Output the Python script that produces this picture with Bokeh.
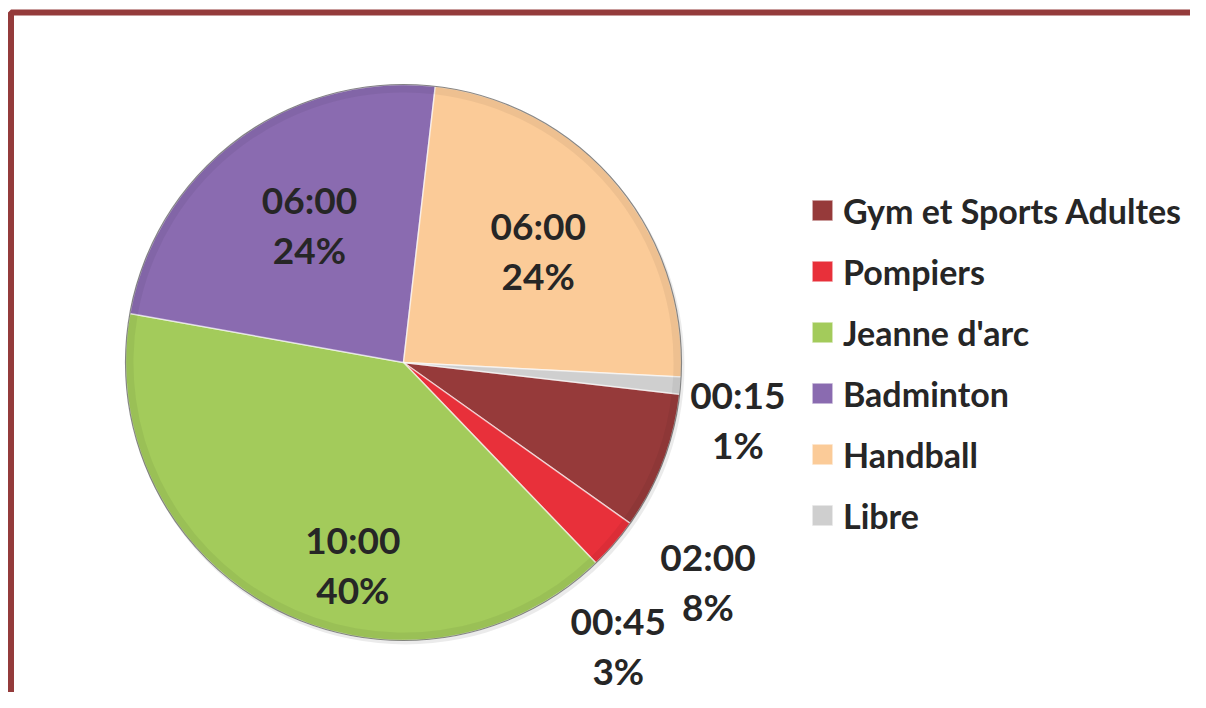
import math
from bokeh.plotting import figure
from bokeh.models import ColumnDataSource, Range1d, BoxAnnotation, Legend, LegendItem
from bokeh.core.properties import value
from bokeh.embed import file_html
from bokeh.resources import INLINE

# ---- data ----
categories = ["Gym et Sports Adultes", "Pompiers", "Jeanne d'arc", "Badminton", "Handball", "Libre"]
minutes = [120, 45, 600, 360, 360, 15]
colors = ["#963A3A", "#E8303A", "#A3CB5B", "#8A6BB0", "#FBCB98", "#CFCFCF"]

# ---- style ----
first_slice_deg = 96.57          # clockwise from 12 o'clock
label_radius = [1.35, 1.277, 0.75, 0.60, 0.63, 1.22]
label_shift = [14.8, 12.0, -14.1, 2.3, 0.5, 4.9]
W, H = 1190, 692
TOP = 708
cx, cy, R = 403, TOP - 362, 278
font = value("Lato")

total = sum(minutes)
fracs = [m / total for m in minutes]
time_txt = ["%02d:%02d" % (m // 60, m % 60) for m in minutes]
pct_txt = ["%d%%" % round(100 * f) for f in fracs]

starts, ends, lx, ly = [], [], [], []
acc = first_slice_deg
for i, f in enumerate(fracs):
    s = acc
    e = acc + 360 * f
    acc = e
    starts.append(math.radians(90 - s))
    ends.append(math.radians(90 - e))
    mid = (s + e) / 2 + label_shift[i]
    r = R * label_radius[i]
    lx.append(cx + r * math.sin(math.radians(mid)))
    ly.append(cy + r * math.cos(math.radians(mid)))

src = ColumnDataSource(dict(cat=categories, start=starts, end=ends, color=colors,
                            x=[cx] * 6, y=[cy] * 6))
lab = ColumnDataSource(dict(x=lx, yt=[v + 25 for v in ly], yp=[v - 25 for v in ly],
                            t=time_txt, p=pct_txt))

p = figure(width=W, height=H, x_range=Range1d(0, W), y_range=Range1d(TOP - H, TOP),
           output_backend="svg", toolbar_location=None, min_border=0)
p.axis.visible = False
p.grid.visible = False
p.outline_line_color = None
p.background_fill_color = "white"
p.border_fill_color = "white"

# frame
p.add_layout(BoxAnnotation(left=10.5, right=1300, top=TOP - 12, bottom=-100,
                           fill_alpha=0, line_color="#943B3B", line_alpha=1.0,
                           line_width=6))

# soft shadow
p.circle(x=cx + 2, y=cy - 3, radius=R + 1, fill_color="#000000", fill_alpha=0.08,
         line_color=None)

w = p.wedge(x="x", y="y", radius=R, start_angle="start", end_angle="end",
            direction="clock", fill_color="color", line_color="white",
            line_width=1.5, line_alpha=0.6, source=src)
# rim shading (bevel look)
p.annular_wedge(x="x", y="y", inner_radius=R - 8, outer_radius=R, start_angle="start",
                end_angle="end", direction="clock", fill_color="black", fill_alpha=0.05,
                line_color=None, source=src)
p.circle(x=cx, y=cy, radius=R, fill_alpha=0, line_color="#5a5a5a",
         line_width=1.2, line_alpha=0.7)

p.text(x="x", y="yt", text="t", source=lab, text_font=font, text_font_style="bold",
       text_font_size="37px", text_color="#262626", text_align="center",
       text_baseline="middle")
p.text(x="x", y="yp", text="p", source=lab, text_font=font, text_font_style="bold",
       text_font_size="37px", text_color="#262626", text_align="center",
       text_baseline="middle")

items = [LegendItem(label=c, renderers=[w], index=i) for i, c in enumerate(categories)]
legend = Legend(items=items, location=(809, 155), padding=0, margin=0,
                border_line_color=None, background_fill_alpha=0,
                glyph_width=26, glyph_height=26, label_height=44, spacing=17,
                label_standoff=8, label_text_font="Lato", label_text_font_style="bold",
                label_text_font_size="34px", label_text_color="#262626",
                label_text_baseline="middle")
p.add_layout(legend, "center")

open("out.html", "w").write(file_html(p, INLINE))
